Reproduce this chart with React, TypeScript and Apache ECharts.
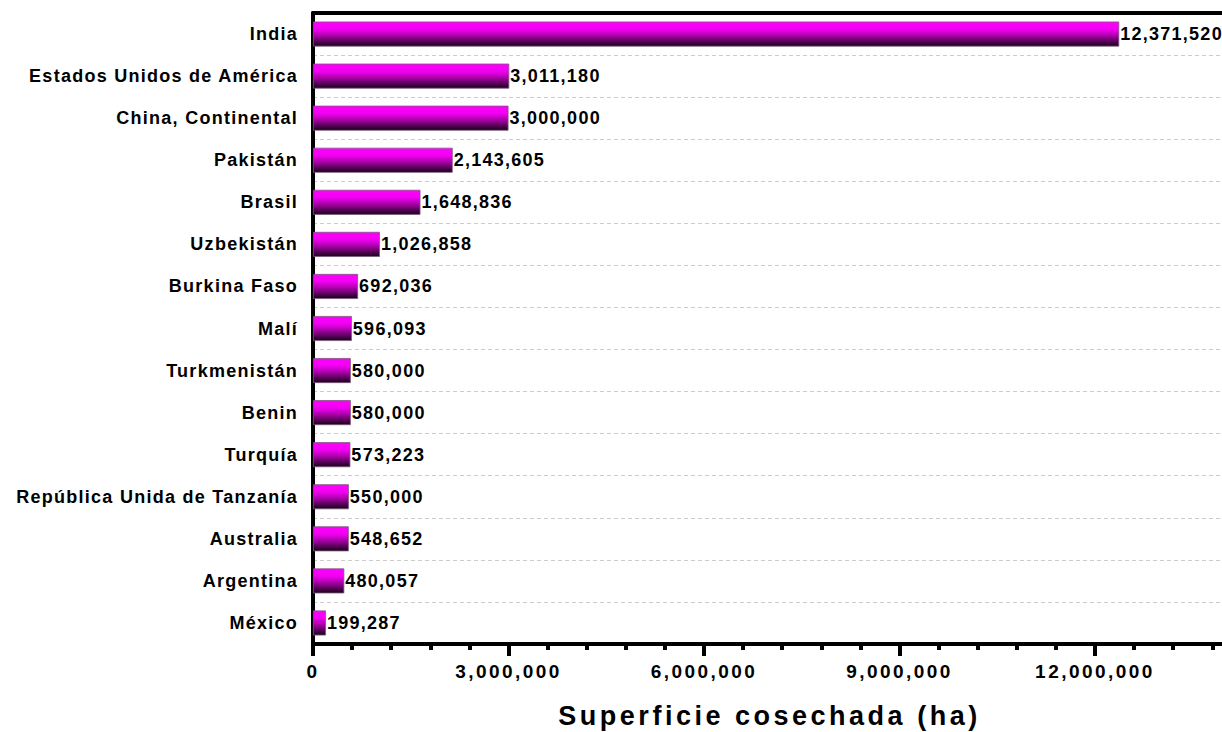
import React, { useEffect, useRef } from "react";
import * as echarts from "echarts";

const countries = [
  "India",
  "Estados Unidos de América",
  "China, Continental",
  "Pakistán",
  "Brasil",
  "Uzbekistán",
  "Burkina Faso",
  "Malí",
  "Turkmenistán",
  "Benin",
  "Turquía",
  "República Unida de Tanzanía",
  "Australia",
  "Argentina",
  "México",
];

const harvestedArea = [
  12371520, 3011180, 3000000, 2143605, 1648836, 1026858, 692036, 596093,
  580000, 580000, 573223, 550000, 548652, 480057, 199287,
];

const axisTitle = "Superficie cosechada (ha)";
const xMin = 0;
const xMax = 15000000;
const xInterval = 3000000;

const FONT = "'Liberation Sans', Arial, Helvetica, sans-serif";

const fmt = (v: number) => v.toLocaleString("en-US");

export default function App() {
  const ref = useRef<HTMLDivElement>(null);

  useEffect(() => {
    if (!ref.current) return;
    const chart = echarts.init(ref.current, undefined, { renderer: "svg" });
    chart.setOption({
      animation: false,
      backgroundColor: "#ffffff",
      grid: {
        left: 313,
        top: 13,
        bottom: 88,
        width: 977.5,
        outerBoundsMode: "none",
        containLabel: false,
        show: false,
      },
      xAxis: [
        {
          type: "value",
          min: xMin,
          max: xMax,
          interval: xInterval,
          axisLine: { show: true, lineStyle: { color: "#000", width: 4 } },
          axisTick: { show: true, length: 12, lineStyle: { color: "#000", width: 4 } },
          minorTick: { show: true, splitNumber: 5, length: 6, lineStyle: { color: "#000", width: 4 } },
          splitLine: { show: false },
          axisLabel: {
            margin: 18,
            color: "#000",
            fontFamily: FONT,
            fontWeight: "bold",
            fontSize: 19,
            showMaxLabel: false,
            formatter: (v: number) => fmt(v),
          },
        },
        {
          type: "value",
          position: "top",
          min: xMin,
          max: xMax,
          interval: xInterval,
          z: 10,
          axisLine: { show: true, onZero: false, lineStyle: { color: "#000", width: 4 } },
          axisTick: { show: false },
          axisLabel: { show: false },
          splitLine: { show: false },
        },
      ],
      yAxis: {
        type: "category",
        data: countries,
        inverse: true,
        axisLine: { show: true, lineStyle: { color: "#000", width: 4 } },
        axisTick: { show: false },
        splitLine: {
          show: true,
          lineStyle: { color: "#cccccc", width: 1, type: [4, 3] },
        },
        axisLabel: {
          margin: 15,
          color: "#000",
          fontFamily: FONT,
          fontWeight: "bold",
          fontSize: 18,
        },
      },
      series: [
        {
          type: "bar",
          data: harvestedArea,
          barWidth: 25,
          itemStyle: {
            borderColor: "#7a5a7a",
            borderWidth: 0.8,
            color: new echarts.graphic.LinearGradient(0, 0, 0, 1, [
              { offset: 0, color: "#ff00ff" },
              { offset: 0.3, color: "#f200f2" },
              { offset: 0.55, color: "#b000b0" },
              { offset: 0.8, color: "#5a005a" },
              { offset: 1, color: "#1a001a" },
            ]),
          },
          label: {
            show: true,
            position: "right",
            distance: 1,
            color: "#000",
            fontFamily: FONT,
            fontWeight: "bold",
            fontSize: 18,
            formatter: (p: any) => fmt(p.value),
          },
        },
      ],
      graphic: [
        {
          type: "text",
          x: 769.5,
          y: 716,
          style: {
            text: axisTitle,
            fill: "#000",
            font: `bold 27px ${FONT}`,
            textAlign: "center",
            textVerticalAlign: "middle",
          },
        },
      ],
    });
    return () => chart.dispose();
  }, []);

  return (
    <>
      <style>{`
        .cw text { letter-spacing: 0.07em; }
        .cw text[style*="19px"], .cw text[style*="27px"] { letter-spacing: 0.13em; }
      `}</style>
      <div
        ref={ref}
        className="cw"
        style={{ position: "absolute", left: 0, top: 0, width: 1222, height: 732 }}
      />
    </>
  );
}
